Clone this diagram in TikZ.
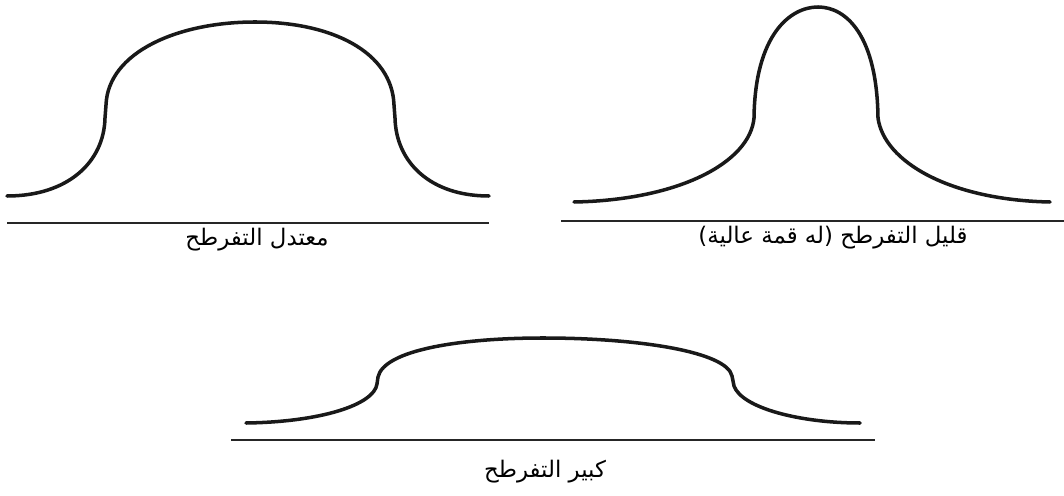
\documentclass[tikz,border=0pt]{standalone}
\usepackage{fontspec}
\newfontfamily\arabicfont[Script=Arabic]{DejaVu Sans}
\TeXXeTstate=1

\begin{document}
\begin{tikzpicture}[
  x=0.02cm, y=-0.02cm,
  every node/.style={font=\arabicfont\fontsize{13}{15}\selectfont, inner sep=0pt},
  curve/.style={line width=2pt, black!90, line cap=round},
  axisline/.style={line width=0.7pt, black!85},
]
\useasboundingbox (0,0) rectangle (1064,496);

% Mesokurtic (top left)
\draw[curve] (7,196) .. controls (68,196) and (104,162) .. (105,118)
  -- (106,105) .. controls (108,52) and (178,22) .. (255,22)
  .. controls (332,22) and (392,52) .. (394,105)
  -- (395,118) .. controls (396,162) and (430,196) .. (489,196);
\coordinate (mesoL) at (7,223);
\coordinate (mesoR) at (489,223);
\draw[axisline] (mesoL) -- (mesoR);
\node (meso) at (257,240) {\beginR معتدل التفرطح\endR};

% Leptokurtic (top right)
\draw[curve] (574,202) .. controls (680,200) and (750,162) .. (754,118)
  .. controls (755,35) and (790,7) .. (818,7)
  .. controls (846,7) and (877,35) .. (878,118)
  .. controls (884,162) and (950,200) .. (1050,202);
\coordinate (leptoL) at (561,221);
\coordinate (leptoR) at (1064,221);
\draw[axisline] (leptoL) -- (leptoR);
\node (lepto) at (833,238) {\beginR قليل التفرطح (له قمة عالية)\endR};

% Platykurtic (bottom)
\draw[curve] (246,423) .. controls (320,422) and (374,405) .. (377,384)
  -- (378,377) .. controls (384,350) and (460,338) .. (543,338)
  .. controls (640,338) and (727,352) .. (732,376)
  -- (734,386) .. controls (742,408) and (800,423) .. (860,423);
\coordinate (platyL) at (231,440);
\coordinate (platyR) at (875,440);
\draw[axisline] (platyL) -- (platyR);
\node (platy) at (545,472) {\beginR كبير التفرطح\endR};
\end{tikzpicture}
\end{document}
